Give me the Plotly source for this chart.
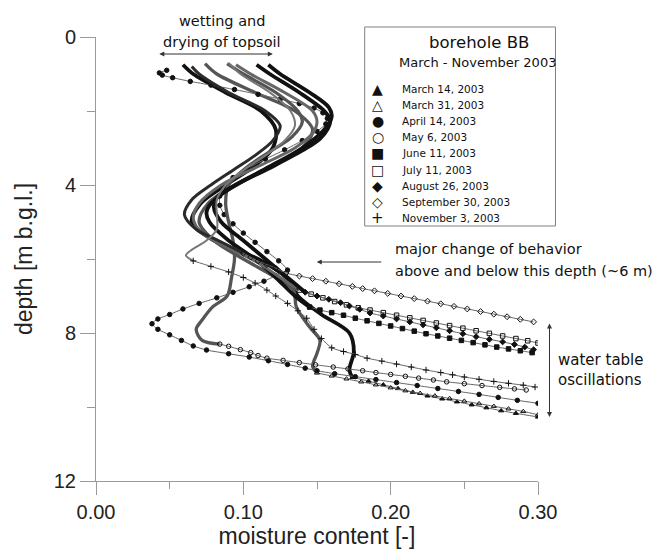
import plotly.graph_objects as go

# ------------------------------------------------------------------
# data: depth [m b.g.l.] and moisture content [-] for each survey
# ------------------------------------------------------------------
labels = ["March 14, 2003", "March 31, 2003", "April 14, 2003", "May 6, 2003",
          "June 11, 2003", "July 11, 2003", "August 26, 2003",
          "September 30, 2003", "November 3, 2003"]

mar14_depth = [0.75, 1.0, 1.5, 2.0, 2.5, 3.0, 3.5, 4.0, 4.5, 5.0, 5.5, 6.0, 6.5, 7.0, 7.5, 8.0, 8.5, 9.0, 9.2,
               9.3, 9.4, 9.5, 9.6, 9.7, 9.78, 9.86, 9.94, 10.02, 10.1, 10.17, 10.27]
mar14_theta = [0.059, 0.066, 0.088, 0.112, 0.122, 0.12, 0.107, 0.088, 0.071, 0.065, 0.08, 0.11, 0.129, 0.137, 0.153, 0.172, 0.175, 0.172, 0.174,
               0.185, 0.195, 0.205, 0.215, 0.225, 0.235, 0.245, 0.255, 0.265, 0.275, 0.285, 0.30]

mar31_depth = [0.72, 1.0, 1.5, 2.0, 2.5, 3.0, 3.5, 4.0, 4.5, 5.0, 5.5, 6.0, 6.5, 6.84, 7.3, 7.84, 8.2, 8.55, 8.9, 9.08,
               9.16, 9.24, 9.32, 9.4, 9.48, 9.56, 9.63, 9.7, 9.77, 9.84, 9.91, 9.98, 10.05, 10.12, 10.21]
mar31_theta = [0.074, 0.082, 0.108, 0.135, 0.147, 0.14, 0.118, 0.094, 0.076, 0.07, 0.08, 0.1, 0.122, 0.134, 0.136, 0.145, 0.152, 0.15, 0.147, 0.15,
               0.16, 0.17, 0.18, 0.19, 0.2, 0.21, 0.22, 0.23, 0.24, 0.25, 0.26, 0.27, 0.28, 0.29, 0.30]

apr14_depth = [0.9, 0.97, 1.03, 1.1, 1.2, 1.3, 1.42, 1.55, 1.68, 1.8, 1.92, 2.05, 2.2, 2.35, 2.55, 2.8, 3.05, 3.3, 3.55, 3.8,
               4.05, 4.3, 4.55, 4.8, 5.05, 5.3, 5.55, 5.8, 6.05, 6.3, 6.45, 6.6, 6.75, 6.9, 7.05, 7.2, 7.35, 7.5, 7.62, 7.75,
               7.9, 8.05, 8.2, 8.35, 8.46, 8.56, 8.65, 8.75, 8.85, 8.95, 9.02, 9.1, 9.18, 9.26, 9.34, 9.42, 9.5, 9.58, 9.66, 9.74,
               9.82, 9.9]
apr14_theta = [0.048, 0.043, 0.045, 0.052, 0.064, 0.078, 0.094, 0.11, 0.125, 0.138, 0.148, 0.154, 0.157, 0.156, 0.15, 0.14, 0.128, 0.115, 0.103, 0.093,
               0.087, 0.084, 0.084, 0.087, 0.093, 0.1, 0.108, 0.116, 0.124, 0.13, 0.122, 0.114, 0.104, 0.093, 0.082, 0.07, 0.059, 0.05, 0.042, 0.038,
               0.042, 0.05, 0.058, 0.066, 0.075, 0.09, 0.104, 0.117, 0.13, 0.142, 0.15, 0.162, 0.176, 0.19, 0.204, 0.218, 0.232, 0.246, 0.26, 0.273,
               0.286, 0.30]

may6_depth = [0.72, 1.0, 1.5, 2.0, 2.3, 2.7, 3.0, 3.5, 4.0, 4.5, 5.0, 5.5, 6.0, 6.5, 7.0, 7.3, 7.65, 7.9, 8.2, 8.3,
              8.36, 8.45, 8.53, 8.61, 8.68, 8.74, 8.8, 8.86, 8.92, 8.97, 9.02, 9.07, 9.12, 9.17, 9.22, 9.27, 9.32, 9.37, 9.42, 9.47,
              9.51, 9.54]
may6_theta = [0.089, 0.1, 0.122, 0.137, 0.14, 0.133, 0.122, 0.103, 0.09, 0.088, 0.09, 0.093, 0.094, 0.092, 0.089, 0.079, 0.072, 0.068, 0.072, 0.084,
              0.09, 0.098, 0.105, 0.11, 0.116, 0.127, 0.138, 0.149, 0.161, 0.171, 0.181, 0.19, 0.2, 0.21, 0.219, 0.229, 0.238, 0.25, 0.262, 0.274,
              0.284, 0.292]

jun11_depth = [0.75, 1.0, 1.5, 2.0, 2.25, 2.5, 2.75, 3.0, 3.5, 4.0, 4.5, 4.75, 5.0, 5.5, 6.0, 6.5, 7.0, 7.3,
               7.38, 7.45, 7.52, 7.6, 7.67, 7.74, 7.81, 7.88, 7.95, 8.02, 8.08, 8.14, 8.2, 8.26, 8.32, 8.38, 8.43, 8.48, 8.53]
jun11_theta = [0.109, 0.118, 0.138, 0.155, 0.159, 0.157, 0.152, 0.143, 0.12, 0.095, 0.078, 0.075, 0.077, 0.09, 0.108, 0.122, 0.135, 0.145,
               0.152, 0.16, 0.168, 0.176, 0.184, 0.192, 0.2, 0.208, 0.216, 0.224, 0.232, 0.24, 0.248, 0.256, 0.264, 0.272, 0.28, 0.288, 0.296]

jul11_depth = [0.75, 1.0, 1.5, 2.0, 2.3, 2.6, 3.0, 3.5, 4.0, 4.5, 4.9, 5.3, 5.7, 6.1, 6.5, 6.84,
               6.95, 7.05, 7.15, 7.24, 7.32, 7.38, 7.45, 7.52, 7.59, 7.66, 7.73, 7.8, 7.87, 7.94, 8.01, 8.08, 8.15, 8.21, 8.27]
jul11_theta = [0.095, 0.105, 0.128, 0.147, 0.15, 0.147, 0.135, 0.11, 0.085, 0.07, 0.066, 0.072, 0.09, 0.11, 0.125, 0.138,
               0.146, 0.154, 0.162, 0.17, 0.178, 0.186, 0.195, 0.204, 0.213, 0.222, 0.231, 0.24, 0.249, 0.258, 0.267, 0.276, 0.285, 0.293, 0.30]

aug26_depth = [0.75, 1.0, 1.5, 1.9, 2.15, 2.5, 3.0, 3.5, 4.0, 4.3, 4.6, 5.0, 5.5, 6.0, 6.5, 6.9,
               7.0, 7.09, 7.18, 7.27, 7.36, 7.46, 7.54, 7.62, 7.7, 7.78, 7.86, 7.94, 8.02, 8.1, 8.17, 8.24, 8.31, 8.38, 8.45]
aug26_theta = [0.117, 0.125, 0.145, 0.158, 0.16, 0.155, 0.14, 0.118, 0.095, 0.083, 0.08, 0.085, 0.1, 0.115, 0.13, 0.142,
               0.15, 0.158, 0.166, 0.172, 0.179, 0.186, 0.195, 0.204, 0.213, 0.222, 0.231, 0.24, 0.249, 0.258, 0.267, 0.276, 0.284, 0.291, 0.297]

sep30_depth = [0.8, 1.0, 1.5, 2.0, 2.4, 2.8, 3.2, 3.6, 4.0, 4.4, 4.8, 5.2, 5.5, 5.84,
               5.95, 6.05, 6.15, 6.25, 6.38, 6.46, 6.53, 6.6, 6.67, 6.74, 6.8, 6.86, 6.93, 7.0, 7.07, 7.14, 7.21, 7.28, 7.35, 7.42,
               7.49, 7.56, 7.63, 7.7]
sep30_theta = [0.065, 0.07, 0.09, 0.115, 0.125, 0.12, 0.108, 0.093, 0.078, 0.065, 0.06, 0.068, 0.083, 0.1,
               0.105, 0.11, 0.116, 0.122, 0.129, 0.138, 0.147, 0.156, 0.165, 0.174, 0.181, 0.189, 0.198, 0.207, 0.216, 0.225, 0.234, 0.243, 0.252, 0.261,
               0.27, 0.279, 0.288, 0.297]

nov3_depth = [0.7, 1.0, 1.5, 2.0, 2.4, 2.8, 3.2, 3.6, 4.0, 4.4, 4.8, 5.2, 5.5, 5.75, 5.9, 6.05,
              6.2, 6.35, 6.5, 6.65, 6.84, 7.0, 7.2, 7.4, 7.6, 7.9, 8.15, 8.4, 8.5, 8.58, 8.68, 8.76, 8.84, 8.92, 9.0, 9.07,
              9.13, 9.19, 9.25, 9.31, 9.36, 9.41, 9.46]
nov3_theta = [0.09, 0.098, 0.118, 0.132, 0.135, 0.128, 0.115, 0.1, 0.088, 0.082, 0.082, 0.082, 0.075, 0.065, 0.061, 0.066,
              0.078, 0.09, 0.1, 0.108, 0.116, 0.122, 0.13, 0.137, 0.143, 0.148, 0.153, 0.16, 0.168, 0.176, 0.184, 0.194, 0.204, 0.214, 0.224, 0.234,
              0.242, 0.25, 0.26, 0.27, 0.28, 0.29, 0.298]

depths = [mar14_depth, mar31_depth, apr14_depth, may6_depth, jun11_depth,
          jul11_depth, aug26_depth, sep30_depth, nov3_depth]
thetas = [mar14_theta, mar31_theta, apr14_theta, may6_theta, jun11_theta,
          jul11_theta, aug26_theta, sep30_theta, nov3_theta]

x_ticks = [0.0, 0.1, 0.2, 0.3]
x_tick_text = ["0.00", "0.10", "0.20", "0.30"]
x_minor = [0.05, 0.15, 0.25]
y_ticks = [0, 4, 8, 12]
y_tick_text = ["0", "4", "8", "12"]
y_minor = [2, 6, 10]

# ------------------------------------------------------------------
# styles
# ------------------------------------------------------------------
styles = [
    dict(symbol="triangle-up", glyph="▲", dcol="#111111", dw=3.8, split=9.2),
    dict(symbol="triangle-up-open", glyph="△", dcol="#555555", dw=3.3, split=9.08),
    dict(symbol="circle", glyph="●", dcol="#111111", dw=0.0, split=0.0),
    dict(symbol="circle-open", glyph="○", dcol="#555555", dw=3.3, split=8.3),
    dict(symbol="square", glyph="■", dcol="#111111", dw=3.8, split=7.3),
    dict(symbol="square-open", glyph="□", dcol="#666666", dw=3.0, split=6.84),
    dict(symbol="diamond", glyph="◆", dcol="#111111", dw=3.8, split=6.9),
    dict(symbol="diamond-open", glyph="◇", dcol="#2a2a2a", dw=3.0, split=5.84),
    dict(symbol="cross-thin", glyph="+", dcol="#777777", dw=2.0, split=6.05),
]

W, H = 653, 550
L, R, T, B = 96, 538.5, 37, 481
ANN_FONT = "DejaVu Sans"
AX_FONT = "Liberation Sans"


def px_x(px):
    return (px - L) / (R - L)


def px_y(py):
    return (B - py) / (B - T)


fig = go.Figure()

for d, th, st, name in zip(depths, thetas, styles, labels):
    dense_d = [v for v in d if v <= st["split"]]
    dense_t = th[:len(dense_d)]
    sparse_d = d[max(len(dense_d) - 1, 0):]
    sparse_t = th[max(len(dense_d) - 1, 0):]
    if len(dense_d) > 1 and st["dw"] > 0:
        fig.add_trace(go.Scatter(
            x=dense_t, y=dense_d, mode="lines", name=name, showlegend=False,
            line=dict(color=st["dcol"], width=st["dw"], shape="spline", smoothing=0.9),
            hoverinfo="skip"))
    fig.add_trace(go.Scatter(
        x=sparse_t, y=sparse_d, mode="lines+markers", name=name, showlegend=False,
        line=dict(color="#666666", width=1, shape="spline", smoothing=0.6),
        marker=dict(symbol=st["symbol"], size=4.5, color="#111111",
                    line=dict(color="#111111", width=1)),
        hoverinfo="skip"))

axis_common = dict(showgrid=False, zeroline=False, showline=True,
                   linecolor="#9a9a9a", linewidth=1, ticks="outside",
                   tickcolor="#9a9a9a", tickwidth=1,
                   tickfont=dict(family=AX_FONT, size=20, color="#222"))

fig.update_layout(
    width=W, height=H, autosize=False,
    margin=dict(l=L, r=W - R, t=T, b=H - B, pad=0),
    paper_bgcolor="white", plot_bgcolor="white",
    showlegend=False,
    xaxis=dict(range=[0, 0.30], tickmode="array", tickvals=x_ticks, ticktext=x_tick_text,
               ticklen=13,
               minor=dict(tickmode="array", tickvals=x_minor, ticks="outside", ticklen=7,
                          tickcolor="#9a9a9a", tickwidth=1),
               title=dict(text="moisture content [-]", font=dict(family=AX_FONT, size=23, color="#222"),
                          standoff=2),
               automargin=False, **axis_common),
    yaxis=dict(range=[12, 0], tickmode="array", tickvals=y_ticks, ticktext=y_tick_text,
               ticklen=15,
               minor=dict(tickmode="array", tickvals=y_minor, ticks="outside", ticklen=8,
                          tickcolor="#9a9a9a", tickwidth=1),
               title=dict(text="depth [m b.g.l.]", font=dict(family=AX_FONT, size=23, color="#222"),
                          standoff=14),
               automargin=False, **axis_common),
)

# legend box (drawn manually to match the compact original)
fig.add_shape(type="rect", xref="paper", yref="paper",
              x0=px_x(365), x1=px_x(556), y0=px_y(27), y1=px_y(226),
              line=dict(color="#808080", width=1), fillcolor="white", layer="below")

ann = []
ann.append(dict(text="borehole BB", x=px_x(479), y=px_y(43), font=dict(family=ANN_FONT, size=16.5, color="#111")))
ann.append(dict(text="March - November 2003", x=px_x(478), y=px_y(63), font=dict(family=ANN_FONT, size=13, color="#111")))
for i, (st, name) in enumerate(zip(styles, labels)):
    yy = 89 + 16.1 * i
    ann.append(dict(text=st["glyph"], x=px_x(378), y=px_y(yy),
                    font=dict(family=ANN_FONT, size=14 if st["glyph"] != "+" else 15, color="#111")))
    ann.append(dict(text=name, x=px_x(400), y=px_y(yy), xanchor="left",
                    font=dict(family=ANN_FONT, size=10.5, color="#111")))

# text annotations
ann.append(dict(text="wetting and", x=px_x(222), y=px_y(21), font=dict(family=ANN_FONT, size=14.5, color="#111")))
ann.append(dict(text="drying of topsoil", x=px_x(222), y=px_y(42), font=dict(family=ANN_FONT, size=14.5, color="#111")))
ann.append(dict(text="major change of behavior", x=px_x(393), y=px_y(249), xanchor="left",
                font=dict(family=ANN_FONT, size=14.5, color="#111")))
ann.append(dict(text="above and below this depth (~6 m)", x=px_x(393), y=px_y(271), xanchor="left",
                font=dict(family=ANN_FONT, size=14.5, color="#111")))
ann.append(dict(text="water table", x=px_x(557), y=px_y(360), xanchor="left",
                font=dict(family=ANN_FONT, size=15, color="#111")))
ann.append(dict(text="oscillations", x=px_x(557), y=px_y(380), xanchor="left",
                font=dict(family=ANN_FONT, size=15, color="#111")))

for a in ann:
    a.setdefault("xanchor", "center")
    a.update(xref="paper", yref="paper", yanchor="middle", showarrow=False)
    fig.add_annotation(**a)

# arrows
arrow_style = dict(xref="paper", yref="paper", text="", showarrow=True,
                   arrowcolor="#333", arrowwidth=1, arrowsize=1, arrowhead=2,
                   standoff=0, startstandoff=0)
fig.add_annotation(x=px_x(273), y=px_y(54), ax=-115, ay=0, arrowside="end+start",
                   startarrowhead=2, **arrow_style)
fig.add_annotation(x=px_x(550), y=px_y(417), ax=0, ay=-95, arrowside="end+start",
                   startarrowhead=2, **arrow_style)
fig.add_annotation(x=px_x(317), y=px_y(262), ax=66, ay=0, **arrow_style)

fig.write_html("out.html")
